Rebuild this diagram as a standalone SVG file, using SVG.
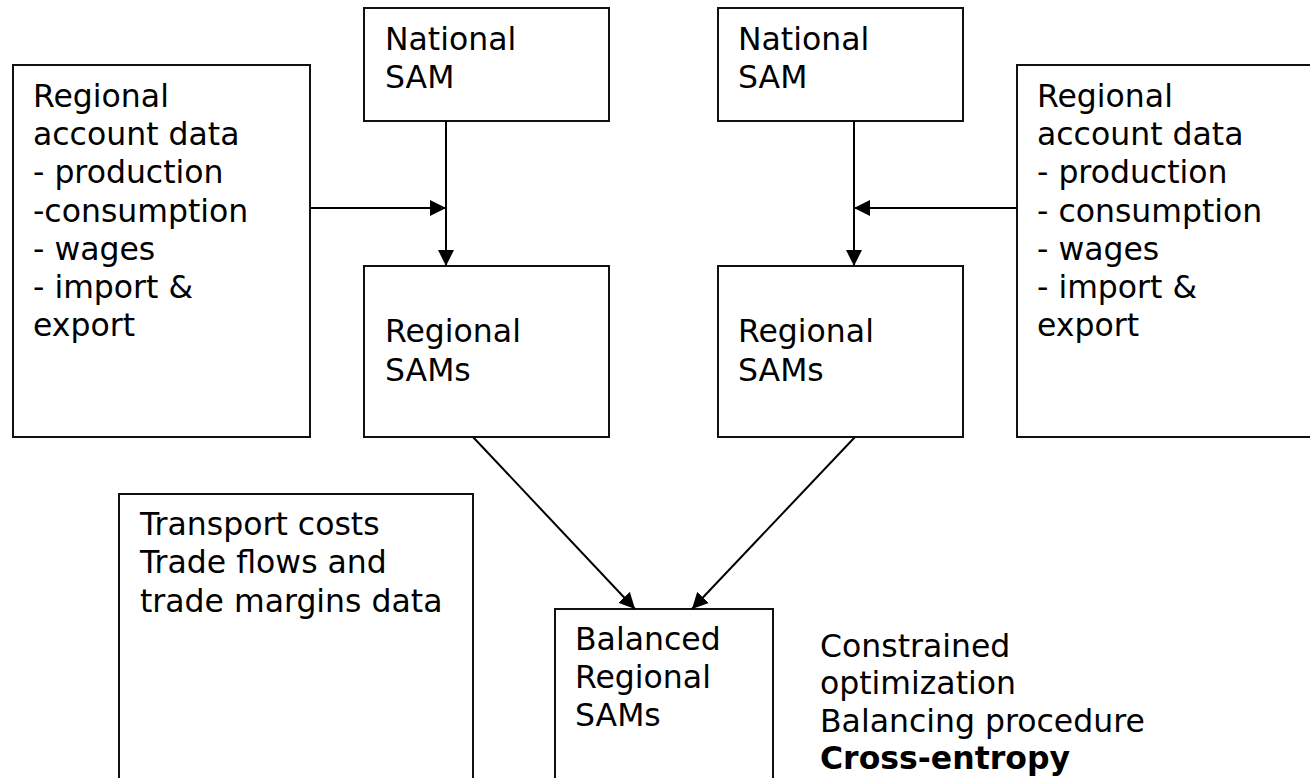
<svg xmlns="http://www.w3.org/2000/svg" width="1310" height="778" viewBox="0 0 1310 778">
<style>
.box{fill:#fff;stroke:#111;stroke-width:2}
.t{font-family:"DejaVu Sans","Verdana",sans-serif;font-size:31.5px;fill:#000}
.b{font-weight:bold}
.c{stroke:#000;stroke-width:2;fill:none}
</style>
<defs>
<marker id="ah" markerUnits="userSpaceOnUse" markerWidth="17" markerHeight="17" viewBox="0 0 17 17" refX="16" refY="8.5" orient="auto">
<path d="M0,0.5 L16,8.5 L0,16.5 Z" fill="#000"/>
</marker>
</defs>
<rect width="1310" height="778" fill="#fff"/>
<g id="regional-data-left">
<rect class="box" x="13" y="65" width="297" height="372"/>
<text class="t"><tspan x="33" y="107">Regional</tspan><tspan x="33" y="145">account data</tspan><tspan x="33" y="183">- production</tspan><tspan x="33" y="222">-consumption</tspan><tspan x="33" y="260">- wages</tspan><tspan x="33" y="298">- import &amp;</tspan><tspan x="33" y="336">export</tspan></text>
</g>
<g id="national-sam-left">
<rect class="box" x="364" y="8" width="245" height="113"/>
<text class="t"><tspan x="385" y="50">National</tspan><tspan x="385" y="88">SAM</tspan></text>
</g>
<g id="regional-sams-left">
<rect class="box" x="364" y="266" width="245" height="171"/>
<text class="t"><tspan x="385" y="342">Regional</tspan><tspan x="385" y="381">SAMs</tspan></text>
</g>
<g id="national-sam-right">
<rect class="box" x="718" y="8" width="245" height="113"/>
<text class="t"><tspan x="738" y="50">National</tspan><tspan x="738" y="88">SAM</tspan></text>
</g>
<g id="regional-sams-right">
<rect class="box" x="718" y="266" width="245" height="171"/>
<text class="t"><tspan x="738" y="342">Regional</tspan><tspan x="738" y="381">SAMs</tspan></text>
</g>
<g id="regional-data-right">
<rect class="box" x="1017" y="65" width="320" height="372"/>
<text class="t"><tspan x="1037" y="107">Regional</tspan><tspan x="1037" y="145">account data</tspan><tspan x="1037" y="183">- production</tspan><tspan x="1037" y="222">- consumption</tspan><tspan x="1037" y="260">- wages</tspan><tspan x="1037" y="298">- import &amp;</tspan><tspan x="1037" y="336">export</tspan></text>
</g>
<g id="transport">
<rect class="box" x="119" y="494" width="354" height="320"/>
<text class="t"><tspan x="140" y="535">Transport costs</tspan><tspan x="140" y="573">Trade flows and</tspan><tspan x="140" y="612">trade margins data</tspan></text>
</g>
<g id="balanced">
<rect class="box" x="555" y="609" width="218" height="220"/>
<text class="t"><tspan x="575" y="650">Balanced</tspan><tspan x="575" y="688">Regional</tspan><tspan x="575" y="726">SAMs</tspan></text>
</g>
<g id="method-note">
<text class="t"><tspan x="820" y="657">Constrained</tspan><tspan x="820" y="694">optimization</tspan><tspan x="820" y="732">Balancing procedure</tspan><tspan class="b" x="820" y="769">Cross-entropy</tspan></text>
</g>
<g id="connectors">
<line class="c" x1="446" y1="121" x2="446" y2="266" marker-end="url(#ah)"/>
<line class="c" x1="310" y1="208" x2="446" y2="208" marker-end="url(#ah)"/>
<line class="c" x1="854" y1="121" x2="854" y2="266" marker-end="url(#ah)"/>
<line class="c" x1="1017" y1="208" x2="854" y2="208" marker-end="url(#ah)"/>
<line class="c" x1="473" y1="437" x2="635" y2="609" marker-end="url(#ah)"/>
<line class="c" x1="855" y1="437" x2="692" y2="609" marker-end="url(#ah)"/>
</g>
</svg>
